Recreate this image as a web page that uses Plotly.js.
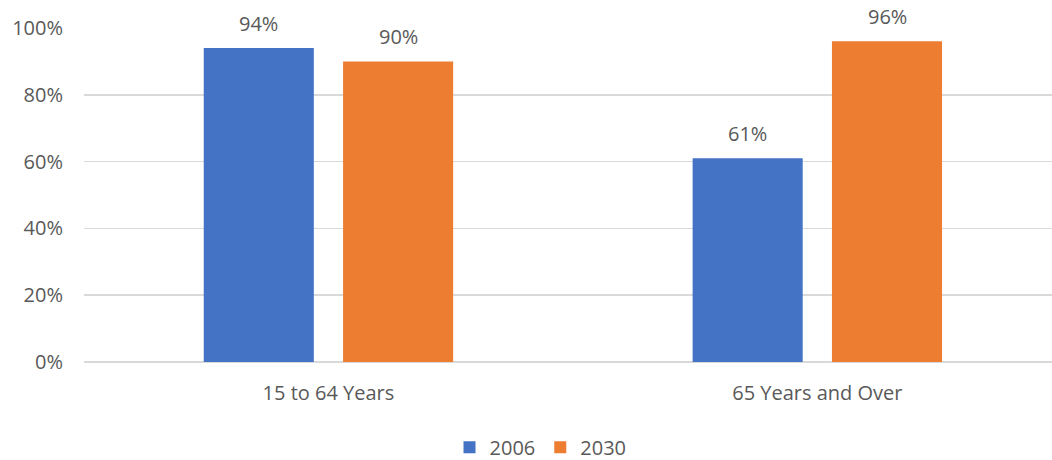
<!DOCTYPE html>
<html>
<head>
<meta charset="utf-8">
<script src="https://cdn.plot.ly/plotly-3.0.1.min.js"></script>
<style>
  html, body { margin: 0; padding: 0; background: #fff; }
  #chart { width: 1052px; height: 460px; }
</style>
</head>
<body>
<div id="chart"></div>
<script>
// Share of population by age group, 2006 vs 2030 (percent)
const ageGroups = ['15 to 64 Years', '65 Years and Over'];
const seriesNames = ['2006', '2030'];
const values2006 = [94, 61];
const values2030 = [90, 96];
const yTicks = [0, 20, 40, 60, 80, 100];
const yTickLabels = ['0%', '20%', '40%', '60%', '80%', '100%'];

const colors = ['#4472C4', '#ED7D31'];
const textColor = '#595959';
const fontFamily = '"Open Sans", "Noto Sans", sans-serif';

const bargap = 0.43;
const bargroupgap = 0.21;

const seriesValues = [values2006, values2030];

const traces = seriesValues.map((vals, i) => ({
  type: 'bar',
  name: seriesNames[i],
  x: ageGroups,
  y: vals,
  marker: { color: colors[i] },
  hoverinfo: 'skip'
}));

// value labels placed above each bar, centred on the bar's slot
const slot = (1 - bargap) / seriesValues.length;
const annotations = [];
seriesValues.forEach((vals, i) => {
  const offset = (i - (seriesValues.length - 1) / 2) * slot;
  vals.forEach((v, j) => {
    annotations.push({
      xref: 'x', yref: 'y',
      x: j + offset, y: v,
      text: v + '%',
      showarrow: false,
      yanchor: 'bottom',
      yshift: 9,
      font: { family: fontFamily, size: 20, color: textColor }
    });
  });
});

const layout = {
  width: 1052,
  height: 460,
  margin: { l: 84, r: 0, t: 28, b: 98, autoexpand: false },
  paper_bgcolor: '#ffffff',
  plot_bgcolor: '#ffffff',
  barmode: 'group',
  bargap: bargap,
  bargroupgap: bargroupgap,
  font: { family: fontFamily, size: 20, color: textColor },
  xaxis: {
    type: 'category',
    range: [-0.5, 1.48],
    showgrid: false,
    showline: false,
    zeroline: false,
    ticks: '',
    ticklabelstandoff: 17,
    tickfont: { family: fontFamily, size: 20, color: textColor },
    fixedrange: true,
    automargin: false
  },
  yaxis: {
    range: [0, 100],
    tickmode: 'array',
    tickvals: yTicks,
    ticktext: yTickLabels,
    showgrid: true,
    gridcolor: '#D9D9D9',
    gridwidth: 1.5,
    zeroline: true,
    zerolinecolor: '#D9D9D9',
    zerolinewidth: 1.5,
    showline: false,
    ticks: '',
    ticklabelstandoff: 20,
    tickfont: { family: fontFamily, size: 20, color: textColor },
    fixedrange: true,
    automargin: false
  },
  showlegend: true,
  legend: {
    orientation: 'h',
    x: 0.4716,
    xanchor: 'center',
    xref: 'paper',
    y: -0.197,
    yanchor: 'top',
    font: { family: fontFamily, size: 20, color: textColor },
    itemwidth: 30,
    traceorder: 'normal'
  },
  annotations: annotations
};

Plotly.newPlot('chart', traces, layout, { displayModeBar: false, staticPlot: true });
</script>
</body>
</html>
